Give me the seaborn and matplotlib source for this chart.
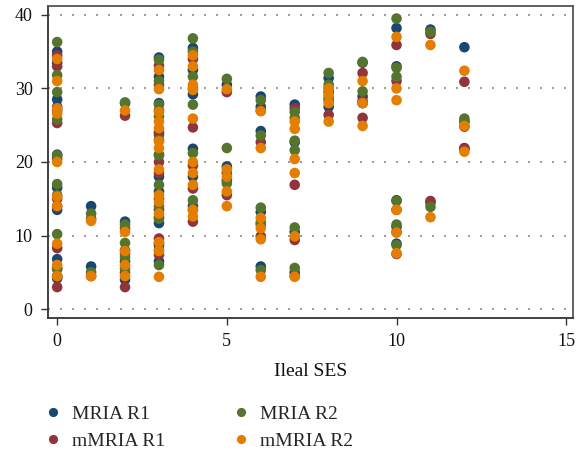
import numpy as np
import pandas as pd
import matplotlib
matplotlib.use("Agg")
import matplotlib.pyplot as plt
import seaborn as sns

series_names = ["MRIA R1", "mMRIA R1", "MRIA R2", "mMRIA R2"]
colors = ["#1a476f", "#90353b", "#55752f", "#e37e00"]

# values per Ileal SES column, per series
mria_r1 = {
    0: [35.0, 33.5, 28.5, 27.5, 21.0, 16.5, 13.5, 6.8, 5.5, 4.2],
    1: [14.0, 5.8],
    2: [28.0, 11.9, 8.0, 6.5, 4.0],
    3: [34.2, 31.6, 28.0, 24.0, 21.0, 18.0, 16.0, 13.5, 11.7, 8.7, 6.5],
    4: [35.5, 32.5, 29.2, 21.8, 18.0, 14.0],
    5: [30.5, 19.4, 17.5],
    6: [28.9, 27.5, 24.2, 13.2, 5.8],
    7: [27.8, 22.7, 10.5, 5.0],
    8: [31.4, 29.5, 27.5],
    9: [33.5, 28.9, 28.0],
    10: [38.2, 33.0, 14.8, 11.2, 8.9],
    11: [38.0, 14.5],
    12: [35.6, 25.5, 21.8],
}
mmria_r1 = {
    0: [34.5, 33.0, 27.0, 25.3, 20.5, 15.0, 14.0, 8.3, 4.5, 3.0],
    1: [12.3, 4.5],
    2: [26.3, 11.0, 7.5, 5.0, 3.0],
    3: [33.1, 30.5, 27.0, 23.7, 20.0, 18.5, 15.0, 12.5, 9.6, 7.4, 9.0],
    4: [34.0, 30.0, 24.7, 19.5, 16.4, 11.9],
    5: [29.5, 18.5, 15.5],
    6: [27.0, 22.7, 11.5, 9.9],
    7: [27.3, 16.9, 9.4, 4.5],
    8: [30.0, 28.4, 26.4],
    9: [32.1, 28.3, 26.0],
    10: [35.9, 31.0, 13.5, 10.5, 7.5],
    11: [37.4, 14.7],
    12: [30.9, 24.8, 21.9],
}
mria_r2 = {
    0: [36.3, 31.8, 29.5, 25.8, 20.9, 17.0, 15.5, 10.2, 5.5, 4.5],
    1: [13.0, 5.0],
    2: [28.1, 11.5, 9.0, 7.0, 5.5],
    3: [33.9, 31.0, 27.8, 26.2, 23.0, 20.9, 16.9, 14.0, 12.3, 8.0, 6.0],
    4: [36.8, 35.0, 31.6, 27.8, 21.2, 14.8, 13.5],
    5: [31.3, 21.9, 17.1],
    6: [28.4, 23.6, 13.8, 11.8, 5.3],
    7: [26.8, 26.0, 22.9, 21.6, 11.1, 5.6],
    8: [32.1, 30.5, 28.8],
    9: [33.6, 29.6],
    10: [39.5, 32.8, 31.6, 14.7, 11.5, 8.7],
    11: [37.7, 13.9],
    12: [25.9, 25.5],
}
mmria_r2 = {
    0: [34.0, 31.0, 27.3, 26.6, 20.0, 15.3, 14.0, 8.9, 6.0, 4.5],
    1: [12.0, 4.5],
    2: [27.0, 10.5, 7.9, 6.0, 4.5],
    3: [32.5, 29.9, 26.8, 25.5, 24.6, 22.8, 21.9, 19.0, 15.5, 14.6, 13.0, 9.1, 7.9, 4.4],
    4: [34.5, 33.0, 30.5, 29.8, 25.9, 20.0, 18.5, 16.9, 13.5, 12.6],
    5: [29.9, 19.0, 18.0, 16.0, 14.0],
    6: [26.9, 21.9, 12.4, 11.0, 9.5, 4.4],
    7: [25.5, 24.5, 20.4, 18.5, 9.9, 4.4],
    8: [30.0, 29.1, 28.0, 25.5],
    9: [31.0, 28.0, 24.9],
    10: [37.0, 30.0, 28.4, 13.5, 10.4, 7.6],
    11: [35.9, 12.5],
    12: [32.4, 24.9, 21.4],
}
x_ticks = [0, 5, 10, 15]
y_ticks = [0, 10, 20, 30, 40]

rows = []
for name, d in zip(series_names, [mria_r1, mmria_r1, mria_r2, mmria_r2]):
    for ses, vals in d.items():
        for v in vals:
            rows.append({"ses": ses, "score": v, "series": name})
df = pd.DataFrame(rows)

sns.set_theme(style="white")
plt.rcParams['font.family'] = ['Liberation Serif', 'DejaVu Serif']

fig = plt.figure(figsize=(5.81, 4.5), dpi=100)
ax = fig.add_axes([48/581, 1 - 318/450, (573 - 48)/581, (318 - 6)/450])

sns.scatterplot(data=df, x="ses", y="score", hue="series", hue_order=series_names,
                palette=colors, s=58, linewidth=0, alpha=1.0, ax=ax, legend=True, zorder=3)

ax.set_xlim(-0.27, 15.2)
ax.set_ylim(-1.2, 41.2)
ax.set_xticks(x_ticks)
ax.set_yticks(y_ticks)
ax.yaxis.grid(True, linestyle=(0, (1.2, 6.0)), color="#8a8a8a", linewidth=1.2)
ax.xaxis.grid(False)
ax.tick_params(axis="both", which="both", direction="out", length=5, width=1, color="#333333",
               labelsize=13, labelcolor="#111111", left=True, bottom=True, pad=6)
for sp in ax.spines.values():
    sp.set_visible(True)
    sp.set_color("#555555")
    sp.set_linewidth(1.3)
ax.spines["left"].set_color("#333333")
ax.spines["bottom"].set_color("#333333")
ax.set_xlabel("Ileal SES", fontsize=14, color="#111111", labelpad=9)
ax.set_ylabel("")

handles, labels = ax.get_legend_handles_labels()
ax.get_legend().remove()
fig.legend(handles, labels, loc="upper left", bbox_to_anchor=(45/581, 1 - 405/450),
           ncol=2, frameon=False, fontsize=14, handlelength=0.8, handletextpad=0.58,
           columnspacing=3.5, labelspacing=0.5, markerscale=0.87,
           borderaxespad=0, borderpad=0)

fig.savefig("out.png", dpi=100)
